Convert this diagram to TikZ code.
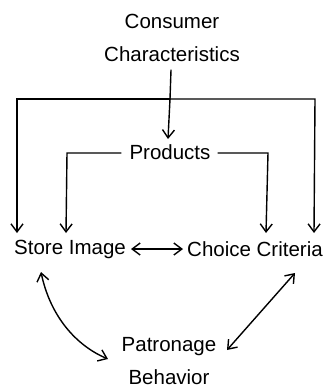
\documentclass[tikz,border=0pt]{standalone}
\usepackage{fontspec}
\setmainfont{Liberation Sans}
\usetikzlibrary{arrows.meta}
\begin{document}
\begin{tikzpicture}[x=1pt,y=-1pt,
  lbl/.style={inner sep=0pt,font=\fontsize{20.5}{23}\selectfont},
  ln/.style={line width=1.4pt,line cap=round},
  arr/.style={ln,-{Straight Barb[length=8pt,width=12pt,line width=1.4pt]}},
  darr/.style={ln,{Straight Barb[length=8pt,width=12pt,line width=1.4pt]}-{Straight Barb[length=8pt,width=12pt,line width=1.4pt]}}]
\useasboundingbox (0,0) rectangle (330,388);
\node[lbl] (cons) at (172,21) {Consumer};
\node[lbl] (char) at (172,54) {Characteristics};
\node[lbl] (prod) at (170,152) {Products};
\node[lbl] (store) at (70,249) {Store Image};
\node[lbl] (choice) at (255,249) {Choice Criteria};
\node[lbl] (patr) at (169,347) {Patronage};
\node[lbl] (beh) at (169,377) {Behavior};
% coordinates
\coordinate (cs) at (171,70);
\coordinate (cj) at (170,99);
\coordinate (tl) at (17,99);
\coordinate (tr) at (315,99);
\coordinate (sl) at (17,233);
\coordinate (sr) at (314,233);
\coordinate (pa) at (168,139);
\coordinate (pl1) at (121,153);
\coordinate (pl2) at (67,153);
\coordinate (pl3) at (66,233);
\coordinate (pr1) at (218,153);
\coordinate (pr2) at (268,153);
\coordinate (pr3) at (266,233);
\coordinate (sia) at (131,249);
\coordinate (cca) at (183,249);
\coordinate (ls) at (41,272);
\coordinate (le) at (108,359);
\coordinate (rs) at (295,273);
\coordinate (re) at (227,350);
% connectors
\draw[ln] (cs) -- (cj);
\draw[arr] (cj) -- (pa);
\draw[arr] (cj) -- (tl) -- (sl);
\draw[arr] (cj) -- (tr) -- (sr);
\draw[arr] (pl1) -- (pl2) -- (pl3);
\draw[arr] (pr1) -- (pr2) -- (pr3);
\draw[darr] (sia) -- (cca);
\draw[darr] (ls) .. controls (50,315) and (75,345) .. (le);
\draw[darr] (rs) -- (re);
\end{tikzpicture}
\end{document}
